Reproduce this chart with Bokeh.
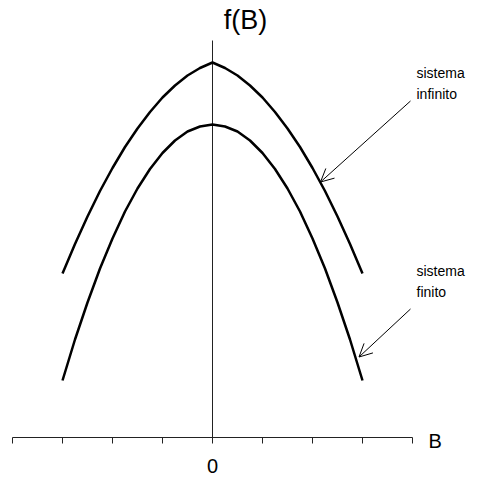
from bokeh.plotting import figure
from bokeh.models import Range1d, LinearAxis, FixedTicker, Arrow, OpenHead
from bokeh.core.properties import value
from bokeh.embed import file_html
from bokeh.resources import INLINE

b_vals = [-3.0, -2.75, -2.5, -2.25, -2.0, -1.75, -1.5, -1.25, -1.0, -0.75, -0.5, -0.25,
          0.0, 0.25, 0.5, 0.75, 1.0, 1.25, 1.5, 1.75, 2.0, 2.25, 2.5, 2.75, 3.0]
# "sistema infinito" curve (cusp at B = 0)
f_infinito = [3.28, 3.87, 4.42, 4.93, 5.39, 5.81, 6.18, 6.51, 6.80, 7.04, 7.24, 7.39,
              7.50, 7.39, 7.24, 7.04, 6.80, 6.51, 6.18, 5.81, 5.39, 4.93, 4.42, 3.87, 3.28]
# "sistema finito" curve (smooth maximum at B = 0)
f_finito = [1.14, 1.96, 2.70, 3.38, 3.98, 4.52, 4.98, 5.37, 5.69, 5.94, 6.12, 6.22,
            6.26, 6.22, 6.12, 5.94, 5.69, 5.37, 4.98, 4.52, 3.98, 3.38, 2.70, 1.96, 1.14]

x_ticks = [-4, -3, -2, -1, 0, 1, 2, 3, 4]
x_tick_labels = {-4: "", -3: "", -2: "", -1: "", 0: "0", 1: "", 2: "", 3: "", 4: ""}
y_axis_top = 7.94

FONT = "Liberation Sans"

p = figure(width=483, height=480, output_backend="svg", toolbar_location=None,
           x_range=Range1d(-4.24, 5.42), y_range=Range1d(-0.86, 8.74),
           x_axis_type=None, y_axis_type=None, min_border=0)
p.outline_line_color = None
p.xgrid.visible = False
p.ygrid.visible = False
p.background_fill_color = "white"
p.border_fill_color = "white"

xaxis = LinearAxis(ticker=FixedTicker(ticks=x_ticks), bounds=(-4, 4),
                   major_label_overrides=x_tick_labels, fixed_location=0)
xaxis.major_tick_in = 0
xaxis.major_tick_out = 6
xaxis.minor_tick_in = 0
xaxis.minor_tick_out = 0
xaxis.axis_line_color = "#222222"
xaxis.major_tick_line_color = "#222222"
xaxis.major_label_standoff = 15
xaxis.major_label_text_font = FONT
xaxis.major_label_text_font_size = "20px"
xaxis.major_label_text_color = "black"
p.add_layout(xaxis, "below")

# vertical f axis
p.segment(x0=[0], y0=[0], x1=[0], y1=[y_axis_top], line_color="#222222", line_width=1)

# curves
p.line(b_vals, f_infinito, line_color="black", line_width=2.5)
p.line(b_vals, f_finito, line_color="black", line_width=2.5)

# arrows
p.add_layout(Arrow(x_start=3.96, y_start=6.73, x_end=2.16, y_end=5.11,
                   line_color="black", line_width=1,
                   end=OpenHead(size=13, line_width=1, line_color="black")))
p.add_layout(Arrow(x_start=3.96, y_start=2.57, x_end=2.93, y_end=1.61,
                   line_color="black", line_width=1,
                   end=OpenHead(size=13, line_width=1, line_color="black")))

# texts
p.text(x=[0.66], y=[8.36], text=["f(B)"], text_font=value(FONT), text_font_size="27px",
       text_align="center", text_baseline="middle", text_color="black")
p.text(x=[4.08, 4.08], y=[7.29, 6.87], text=["sistema", "infinito"], text_font=value(FONT),
       text_font_size="14px", text_align="left", text_baseline="alphabetic", text_color="black")
p.text(x=[4.08, 4.08], y=[3.33, 2.91], text=["sistema", "finito"], text_font=value(FONT),
       text_font_size="14px", text_align="left", text_baseline="alphabetic", text_color="black")
p.text(x=[4.32], y=[-0.06], text=["B"], text_font=value(FONT), text_font_size="20px",
       text_align="left", text_baseline="middle", text_color="black")

open("out.html", "w").write(file_html(p, INLINE))
